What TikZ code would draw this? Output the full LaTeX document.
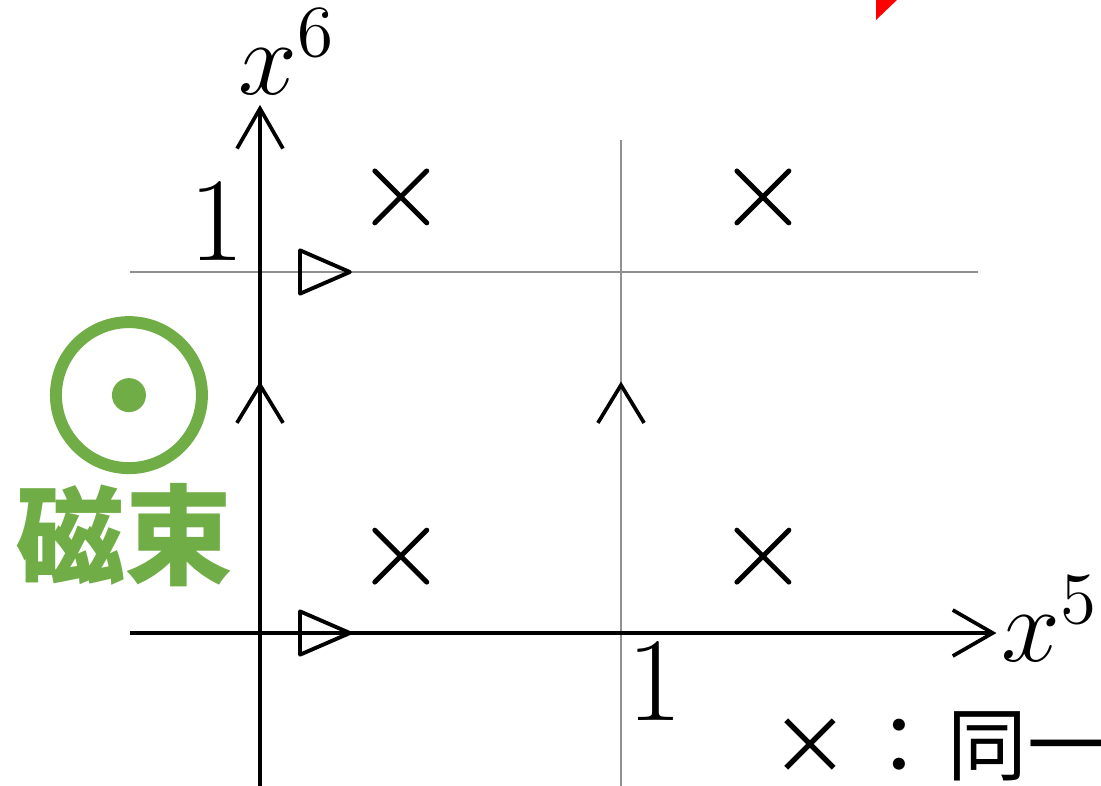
\documentclass[tikz,border=0pt]{standalone}
\usepackage{fontspec}
\newfontfamily\cjk{Noto Sans CJK JP}
\usepackage{xcolor}
\usepackage{tikz}
\usetikzlibrary{calc,arrows.meta}
\definecolor{ink}{HTML}{000000}
\definecolor{cellline}{HTML}{909090}
\definecolor{flux}{HTML}{70AD47}
\definecolor{redmark}{HTML}{FF0000}
\tikzset{
  axis/.style={draw=ink, line width=1.05pt},
  cellgrid/.style={draw=cellline, line width=0.6pt},
  tipend/.style={-{Straight Barb[length=4mm,width=4.6mm,line width=1.05pt]}},
  chev/.style={draw=ink, line width=1.05pt},
  cross/.style={draw=ink, line width=1.4pt, line cap=round},
  flag/.style={draw=ink, line width=1.1pt, line join=round},
  labx/.style={text=ink, inner sep=0pt, scale=1.45, font=\fontsize{20.74}{25}\selectfont},
  labn/.style={text=ink, inner sep=0pt, font=\fontsize{34}{38}\selectfont},
  fluxlab/.style={text=flux, inner sep=0pt, font=\cjk\bfseries\fontsize{31}{35}\selectfont},
  note/.style={text=ink, inner sep=0pt, font=\cjk\fontsize{22.7}{26}\selectfont},
}
\begin{document}
\begin{tikzpicture}[x=3.61cm,y=3.61cm]
  \useasboundingbox (-0.7202,-0.4211) rectangle (2.3296,1.7535);
  \clip (-0.7202,-0.4211) rectangle (2.3296,1.7535);
  \coordinate (O) at (0,0);
  \coordinate (E5) at (1,0);
  \coordinate (E6) at (0,1);
  % unit cell
  \draw[cellgrid] (1,-0.43) -- (1,1.366);
  \draw[cellgrid] (-0.36,1) -- (1.989,1);
  % axes
  \draw[axis,tipend] (-0.36,0) -- (2.04,0);
  \draw[axis,tipend] (0,-0.43) -- (0,1.463);
  \draw[chev] (-0.064,0.582) -- (0,0.687) -- (0.064,0.582);
  \draw[chev] (0.936,0.582) -- (1,0.687) -- (1.064,0.582);
  \draw[flag] (0.111,-0.06) -- (0.111,0.06) -- (0.249,0) -- cycle;
  \draw[flag] (0.111,0.94) -- (0.111,1.06) -- (0.249,1) -- cycle;
  \foreach \px/\py in {0.39/1.208, 1.393/1.208, 0.39/0.213, 1.393/0.213}{
    \draw[cross] (\px-0.072,\py-0.072) -- (\px+0.072,\py+0.072);
    \draw[cross] (\px-0.072,\py+0.072) -- (\px+0.072,\py-0.072);
  }
  \node[labx] (x6) at (0.075,1.609) {$x^6$};
  \node[labx] (x5) at (2.188,0.039) {$x^5$};
  \node[labn] (one6) at (-0.119,1.141) {1};
  \node[labn] (one5) at (1.094,-0.133) {1};
  % flux
  \coordinate (F) at (-0.363,0.659);
  \draw[draw=flux, line width=3.4pt] (F) circle[radius=0.73cm];
  \fill[flux] (F) circle[radius=0.17cm];
  \node[fluxlab] (flx) at (-0.374,0.271) {磁束};
  \node[note, anchor=west] (nt) at (1.411,-0.313) {×\hspace{0.1cm}：\hspace{0.08cm}同一};
  \fill[redmark] (1.7064,1.78) -- (1.792,1.78) -- (1.7064,1.6981) -- cycle;
\end{tikzpicture}
\end{document}
